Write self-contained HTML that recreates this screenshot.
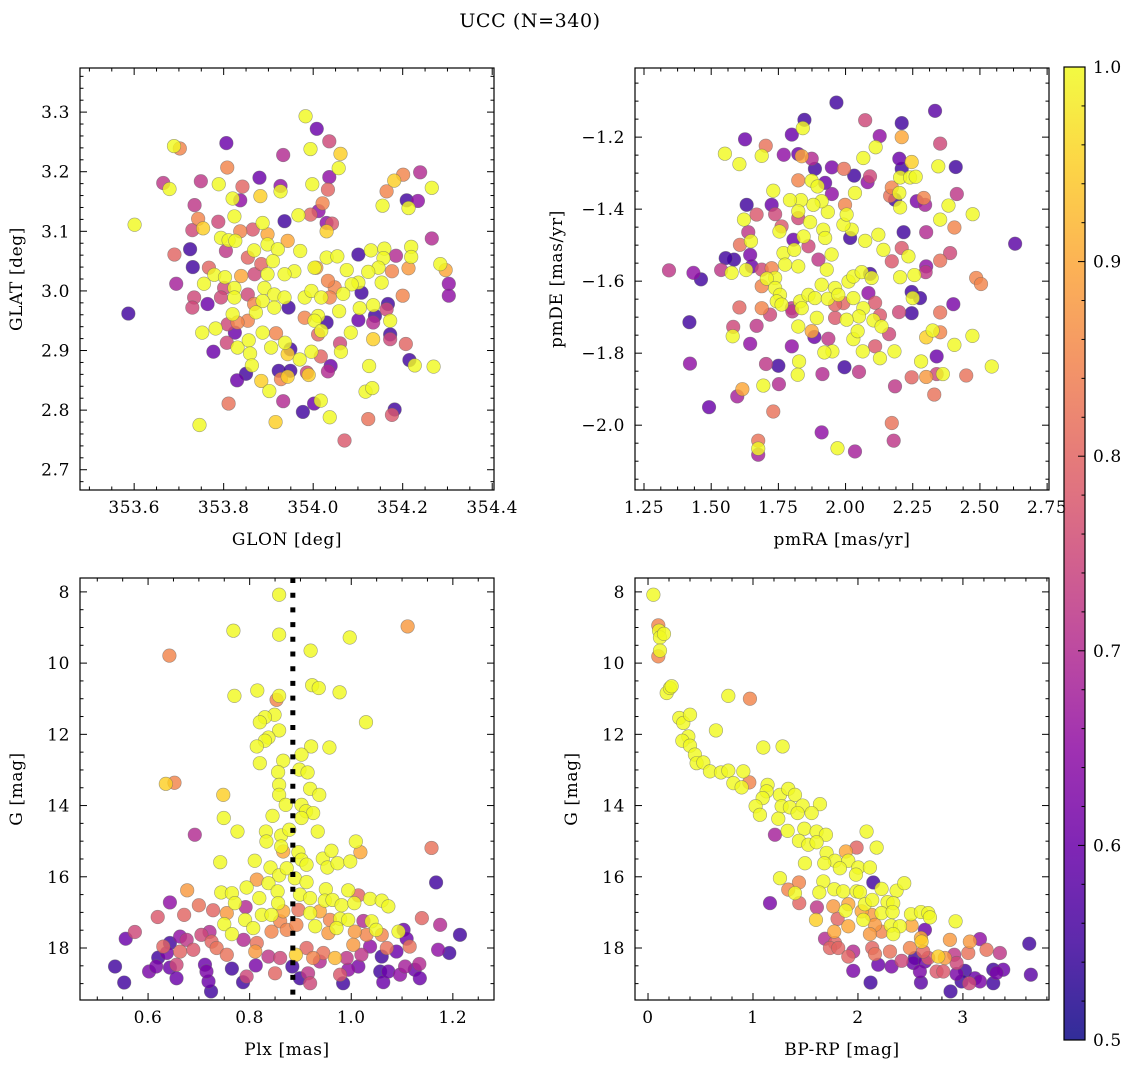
<!DOCTYPE html>
<html><head><meta charset="utf-8">
<style>
html,body{margin:0;padding:0;background:#fff;}
svg{display:block;}
text{font-family:"DejaVu Serif","Liberation Serif",serif;fill:#000;letter-spacing:0.6px;}
</style></head>
<body>
<svg id="fig" width="1136" height="1067" viewBox="0 0 1136 1067" xmlns="http://www.w3.org/2000/svg">
<text x="530" y="27" font-size="19" text-anchor="middle">UCC (N=340)</text>
</svg>
<script>
// ---- Panel 1: GLON vs GLAT ----
const p1X=[353.983,354.008,354.036,353.994,354.061,354.057,354.036,354.033,353.998,353.806,353.933,353.689,353.702,353.665,353.679,353.749,353.789,353.808,353.842,353.880,353.927,353.927,353.882,353.820,353.837,353.735,353.601,353.743,353.754,353.730,353.788,353.824,353.936,353.967,353.994,354.012,354.021,354.030,354.042,354.030,354.155,354.164,354.181,354.201,354.239,354.265,354.209,354.234,354.213,354.265,353.725,353.731,353.690,353.694,353.587,353.764,353.734,353.730,353.756,353.767,353.779,353.803,353.805,353.794,353.811,353.826,353.837,353.865,353.887,353.898,353.898,353.921,353.868,353.854,353.884,353.910,353.943,353.971,354.003,354.030,354.054,354.101,354.129,354.159,354.219,354.219,354.185,354.157,354.284,354.296,354.303,354.303,354.213,354.176,354.146,354.123,354.153,354.101,354.075,354.086,354.067,354.048,354.033,354.007,353.958,353.936,353.898,353.869,353.839,353.824,353.801,353.794,353.824,353.854,353.891,353.913,353.936,353.887,353.868,353.913,353.945,353.981,353.996,354.018,354.037,354.108,354.200,354.134,354.104,354.058,354.011,354.030,353.981,354.003,354.018,354.011,354.101,354.138,354.167,354.164,354.172,354.134,354.084,354.134,354.172,354.172,354.207,354.060,354.062,354.017,353.996,353.970,353.943,353.949,353.937,353.917,353.906,353.887,353.872,353.854,353.831,353.820,353.809,353.825,353.807,353.831,353.856,353.859,353.863,353.850,353.830,353.777,353.782,353.752,353.923,353.949,353.928,353.943,353.884,353.902,353.986,353.990,354.039,354.033,354.125,354.117,354.132,354.215,354.227,354.269,353.933,353.811,353.746,353.916,353.977,354.002,354.017,354.037,354.123,354.182,354.176,354.070];
const p1Y=[3.293,3.272,3.251,3.238,3.230,3.206,3.191,3.170,3.179,3.248,3.228,3.243,3.239,3.181,3.171,3.184,3.179,3.207,3.175,3.190,3.176,3.167,3.159,3.155,3.152,3.144,3.111,3.121,3.105,3.102,3.116,3.125,3.117,3.127,3.128,3.134,3.147,3.114,3.113,3.100,3.143,3.167,3.185,3.195,3.199,3.173,3.152,3.151,3.139,3.088,3.070,3.040,3.061,3.012,2.962,2.978,2.989,2.972,3.012,3.039,3.027,3.023,3.067,3.089,3.085,3.084,3.100,3.103,3.114,3.095,3.078,3.070,3.068,3.056,3.045,3.050,3.084,3.067,3.039,3.056,3.058,3.061,3.068,3.071,3.074,3.057,3.059,3.055,3.045,3.035,3.012,2.992,3.038,3.033,3.039,3.032,3.014,3.014,3.035,3.011,2.995,3.006,3.017,3.039,3.033,3.028,3.028,3.028,3.025,3.005,3.005,2.989,2.989,2.994,3.005,2.994,2.989,2.983,2.978,2.972,2.972,2.989,3.000,2.989,2.989,2.997,2.992,2.976,2.971,2.966,2.958,2.947,2.955,2.950,2.933,2.927,2.951,2.958,2.978,2.969,2.950,2.947,2.930,2.919,2.927,2.919,2.911,2.912,2.898,2.890,2.898,2.885,2.894,2.902,2.913,2.929,2.905,2.930,2.964,2.950,2.947,2.961,2.944,2.930,2.913,2.905,2.917,2.895,2.875,2.861,2.850,2.898,2.937,2.930,2.866,2.866,2.852,2.856,2.849,2.832,2.863,2.859,2.874,2.865,2.874,2.831,2.837,2.884,2.875,2.873,2.815,2.811,2.775,2.780,2.797,2.811,2.816,2.788,2.785,2.801,2.792,2.749];
const p1P=[1.0,0.6,0.75,1.0,0.95,1.0,0.65,0.8,1.0,0.6,0.7,1.0,0.85,0.72,1.0,0.72,1.0,0.85,0.8,0.6,0.65,1.0,0.95,1.0,0.65,0.72,1.0,0.85,0.95,0.75,0.75,1.0,0.55,1.0,0.8,0.65,0.85,0.65,0.78,0.95,1.0,0.85,0.95,0.85,0.7,1.0,0.55,0.65,1.0,0.7,0.55,0.55,0.8,0.68,0.55,0.6,0.75,0.75,1.0,0.8,1.0,1.0,0.72,1.0,1.0,1.0,0.85,0.78,1.0,0.9,1.0,1.0,1.0,0.8,0.8,1.0,0.9,1.0,1.0,1.0,1.0,0.55,1.0,1.0,1.0,1.0,0.7,1.0,1.0,0.9,0.65,0.65,0.88,0.85,1.0,1.0,1.0,1.0,1.0,1.0,1.0,0.85,0.85,0.9,1.0,1.0,1.0,0.75,0.9,1.0,0.75,0.75,1.0,0.75,1.0,1.0,1.0,1.0,0.85,1.0,0.55,1.0,1.0,1.0,0.85,0.55,0.85,1.0,1.0,1.0,1.0,0.55,0.85,1.0,1.0,0.8,0.6,0.55,0.55,0.75,1.0,0.7,1.0,0.95,0.55,0.75,0.8,0.75,1.0,0.8,1.0,1.0,0.95,0.55,1.0,0.85,1.0,1.0,1.0,0.85,0.85,1.0,0.75,0.6,0.75,1.0,1.0,1.0,1.0,0.55,0.6,0.6,1.0,1.0,0.55,0.55,0.85,0.95,0.95,1.0,0.75,0.95,0.6,0.7,1.0,1.0,1.0,0.55,1.0,1.0,0.7,0.82,1.0,0.95,0.55,0.6,1.0,1.0,0.82,0.55,0.78,0.78];

// ---- Panel 2: pmRA vs pmDE ----
const p2X=[1.966,1.847,1.841,1.800,1.626,1.703,1.551,1.605,1.688,1.770,1.824,1.837,1.874,1.886,1.949,1.994,2.032,2.073,2.127,2.112,2.066,2.209,2.209,2.333,2.352,2.410,2.345,2.200,2.246,2.209,2.203,2.240,2.261,2.091,2.082,1.874,1.924,1.824,1.896,1.731,1.949,2.172,2.166,2.200,2.184,2.203,2.265,2.291,2.296,2.414,2.383,2.473,2.352,2.405,2.300,2.216,2.631,2.389,2.352,2.300,2.298,2.256,2.203,2.486,2.504,2.234,2.172,2.209,2.141,2.122,2.073,2.023,2.017,1.992,2.004,2.035,1.998,1.934,1.911,1.880,1.834,1.793,1.824,1.824,1.868,1.917,1.924,1.844,1.806,1.762,1.754,1.738,1.669,1.632,1.622,1.725,1.638,1.648,1.607,1.645,1.651,1.585,1.554,1.537,1.576,1.630,1.343,1.434,1.462,1.688,1.725,1.769,1.809,1.862,1.899,1.948,1.930,1.824,1.775,1.738,1.707,1.688,1.738,1.756,1.744,1.688,1.719,1.762,1.800,1.831,1.862,1.886,1.911,1.961,2.011,2.029,2.060,2.091,2.097,2.085,2.029,1.992,1.961,1.934,1.973,2.110,2.066,2.050,2.004,1.961,1.893,1.837,1.802,1.824,1.874,1.884,1.936,2.029,2.045,2.104,2.128,2.134,2.162,2.199,2.246,2.250,2.277,2.246,2.352,2.401,2.110,2.064,2.128,2.182,1.951,1.921,1.800,1.827,1.750,1.704,1.822,1.914,1.996,2.050,1.645,1.580,1.582,1.605,1.669,1.419,1.421,1.492,1.597,1.616,1.694,1.752,1.731,1.675,1.675,1.675,1.911,1.970,2.035,2.172,2.179,2.184,2.246,2.300,2.339,2.362,2.339,2.330,2.281,2.300,2.324,2.352,2.405,2.449,2.472,2.544];
const p2Y=[-1.104,-1.152,-1.175,-1.193,-1.206,-1.224,-1.246,-1.275,-1.252,-1.249,-1.247,-1.253,-1.260,-1.288,-1.284,-1.288,-1.307,-1.153,-1.197,-1.228,-1.258,-1.161,-1.200,-1.127,-1.218,-1.283,-1.281,-1.260,-1.269,-1.288,-1.312,-1.312,-1.310,-1.309,-1.325,-1.321,-1.327,-1.320,-1.337,-1.349,-1.358,-1.340,-1.363,-1.355,-1.374,-1.395,-1.378,-1.369,-1.388,-1.358,-1.390,-1.414,-1.429,-1.451,-1.464,-1.464,-1.496,-1.522,-1.543,-1.559,-1.575,-1.583,-1.589,-1.591,-1.608,-1.531,-1.545,-1.508,-1.513,-1.471,-1.488,-1.457,-1.480,-1.443,-1.415,-1.355,-1.388,-1.408,-1.378,-1.388,-1.375,-1.375,-1.406,-1.425,-1.436,-1.457,-1.480,-1.476,-1.485,-1.448,-1.462,-1.414,-1.415,-1.388,-1.429,-1.388,-1.464,-1.489,-1.499,-1.527,-1.559,-1.540,-1.536,-1.569,-1.577,-1.569,-1.570,-1.577,-1.595,-1.568,-1.564,-1.522,-1.513,-1.503,-1.540,-1.526,-1.568,-1.559,-1.554,-1.591,-1.593,-1.614,-1.619,-1.638,-1.656,-1.675,-1.693,-1.665,-1.675,-1.656,-1.638,-1.647,-1.610,-1.619,-1.601,-1.587,-1.575,-1.580,-1.591,-1.633,-1.647,-1.661,-1.665,-1.649,-1.638,-1.660,-1.675,-1.698,-1.707,-1.702,-1.702,-1.675,-1.684,-1.726,-1.739,-1.755,-1.760,-1.761,-1.739,-1.709,-1.695,-1.726,-1.747,-1.686,-1.630,-1.647,-1.647,-1.689,-1.687,-1.664,-1.781,-1.795,-1.814,-1.795,-1.795,-1.798,-1.781,-1.823,-1.835,-1.830,-1.860,-1.858,-1.839,-1.852,-1.774,-1.753,-1.727,-1.673,-1.724,-1.714,-1.829,-1.950,-1.920,-1.900,-1.890,-1.886,-1.962,-2.043,-2.065,-2.082,-2.020,-2.064,-2.073,-1.994,-2.043,-1.892,-1.867,-1.866,-1.858,-1.858,-1.809,-1.915,-1.823,-1.756,-1.737,-1.742,-1.777,-1.862,-1.752,-1.837];
const p2P=[0.55,0.55,1.0,0.6,0.6,0.82,1.0,1.0,1.0,0.65,0.6,0.9,0.7,0.55,0.62,0.82,0.55,0.75,0.65,1.0,1.0,0.55,0.9,0.58,0.75,0.55,1.0,0.6,0.95,0.55,1.0,1.0,1.0,0.75,0.65,1.0,0.6,0.85,1.0,1.0,0.65,0.85,0.82,1.0,0.55,1.0,0.62,0.85,0.68,0.72,1.0,1.0,1.0,0.85,0.7,0.55,0.58,0.75,0.82,0.65,0.72,1.0,1.0,0.85,0.85,1.0,0.78,0.78,1.0,1.0,1.0,1.0,0.55,1.0,1.0,1.0,0.85,1.0,1.0,1.0,1.0,1.0,1.0,0.75,1.0,1.0,1.0,1.0,0.6,0.78,1.0,0.75,0.78,0.55,1.0,0.6,0.72,1.0,0.82,0.62,0.6,0.55,0.55,0.72,1.0,1.0,0.72,0.65,0.55,0.75,0.85,1.0,1.0,0.75,0.72,1.0,1.0,1.0,1.0,1.0,1.0,0.85,1.0,1.0,1.0,0.85,0.75,1.0,0.72,1.0,1.0,1.0,1.0,1.0,1.0,1.0,1.0,0.55,1.0,0.65,1.0,0.8,0.8,1.0,1.0,0.78,1.0,1.0,1.0,0.78,1.0,1.0,0.72,1.0,0.9,0.6,0.72,1.0,1.0,1.0,0.78,1.0,0.75,0.75,0.55,1.0,0.55,0.55,0.82,0.62,0.78,1.0,1.0,1.0,1.0,1.0,0.65,1.0,0.55,0.72,1.0,0.7,0.55,0.72,0.65,1.0,0.75,0.8,0.72,0.55,0.65,0.6,0.68,0.9,1.0,0.7,0.82,0.82,1.0,0.68,0.65,1.0,0.68,0.82,0.72,0.72,0.8,0.88,0.75,1.0,0.6,0.82,1.0,0.95,1.0,0.85,1.0,0.82,1.0,1.0];

// ---- Panel 3: Plx vs G ----
const p3X=[0.858,0.768,0.858,0.997,1.111,0.642,0.920,0.923,0.936,0.977,0.815,0.770,0.853,0.858,1.029,0.849,0.830,0.820,0.858,0.837,0.830,0.814,0.921,0.957,0.820,0.866,0.902,0.635,0.652,0.856,0.898,0.914,0.858,0.919,0.937,0.748,0.858,0.871,0.902,0.911,0.925,0.902,0.845,0.749,0.692,0.776,0.832,0.833,0.862,0.878,0.934,0.862,0.866,0.896,0.902,0.912,0.810,0.742,0.944,0.961,0.953,0.973,0.998,1.009,1.018,1.158,1.167,0.841,0.858,0.873,0.889,0.814,0.794,0.837,0.855,0.912,0.950,0.994,0.677,0.744,0.765,0.819,0.899,0.919,0.948,0.963,1.014,1.037,1.060,1.073,0.643,0.700,0.771,0.856,0.981,1.006,0.619,0.671,0.728,0.755,0.792,0.824,0.843,0.866,0.896,0.919,0.938,0.958,0.978,0.994,1.024,1.040,1.139,1.175,1.214,0.750,0.791,0.807,0.860,0.873,0.892,0.929,0.955,0.971,1.007,1.030,1.049,1.060,1.093,1.103,0.765,0.843,0.556,0.574,0.643,0.663,0.676,0.705,0.721,0.725,0.630,0.663,0.689,0.735,0.755,0.788,0.814,0.811,0.837,0.860,0.891,0.912,0.925,0.945,0.968,0.991,1.004,1.020,1.037,1.070,1.089,1.115,1.109,1.171,1.193,0.535,0.553,0.602,0.616,0.620,0.637,0.643,0.656,0.656,0.712,0.715,0.719,0.724,0.765,0.787,0.794,0.812,0.850,0.884,0.899,0.915,0.919,0.938,0.978,0.984,0.994,1.014,1.057,1.060,1.063,1.073,1.096,1.106,1.125,1.135,1.134];
const p3Y=[8.08,9.09,9.20,9.28,8.97,9.79,9.65,10.62,10.70,10.82,10.77,10.92,11.03,10.92,11.66,11.45,11.52,11.66,11.89,12.09,12.18,12.34,12.34,12.37,12.81,12.74,12.57,13.39,13.36,13.06,12.99,13.07,13.42,13.53,13.70,13.70,13.70,13.98,13.98,14.16,14.21,14.35,14.29,14.35,14.82,14.73,14.73,15.01,14.84,14.68,14.73,15.15,15.29,15.31,15.52,15.66,15.55,15.59,15.49,15.27,15.74,15.62,15.57,15.01,15.31,15.19,16.16,15.74,15.96,15.76,16.04,16.08,16.30,16.18,16.41,16.15,16.35,16.38,16.38,16.44,16.46,16.60,16.50,16.60,16.67,16.65,16.52,16.62,16.67,16.83,16.72,16.80,16.74,16.74,16.80,16.74,17.13,17.07,16.94,17.02,16.85,17.07,17.07,16.97,16.93,17.02,16.97,17.21,17.18,17.21,17.24,17.25,17.16,17.35,17.63,17.33,17.21,17.44,17.25,17.49,17.35,17.39,17.58,17.44,17.54,17.63,17.49,17.63,17.54,17.49,17.61,17.54,17.74,17.55,17.86,17.68,17.77,17.63,17.55,17.82,17.96,18.10,18.05,18.00,18.19,17.77,17.86,18.10,18.24,18.28,18.19,18.00,18.28,18.14,18.28,18.28,17.91,18.19,17.96,18.00,18.10,17.96,17.74,18.05,18.14,18.52,18.97,18.66,18.52,18.27,18.14,18.55,18.85,18.47,18.47,18.66,18.94,19.22,18.58,18.96,18.80,18.49,18.71,18.52,18.85,18.71,18.99,18.38,18.75,18.99,18.61,18.52,18.66,18.24,18.96,18.66,18.75,18.52,18.61,18.85,18.45];
const p3P=[1.0,1.0,1.0,1.0,0.88,0.85,1.0,1.0,1.0,1.0,1.0,1.0,0.85,1.0,1.0,1.0,1.0,1.0,1.0,1.0,1.0,1.0,1.0,1.0,1.0,1.0,1.0,0.95,0.85,1.0,1.0,1.0,1.0,1.0,1.0,0.95,1.0,1.0,1.0,1.0,1.0,1.0,1.0,1.0,0.7,1.0,1.0,1.0,1.0,1.0,1.0,1.0,0.9,1.0,1.0,1.0,1.0,1.0,1.0,1.0,1.0,1.0,1.0,1.0,0.9,0.82,0.55,1.0,1.0,1.0,1.0,0.88,1.0,1.0,1.0,1.0,1.0,1.0,0.88,1.0,1.0,1.0,1.0,1.0,1.0,1.0,0.8,1.0,1.0,1.0,0.65,0.82,1.0,1.0,1.0,1.0,0.78,0.8,0.8,0.88,0.7,1.0,1.0,0.9,0.82,1.0,0.9,0.85,1.0,1.0,0.7,1.0,0.8,0.7,0.55,1.0,1.0,1.0,0.85,0.85,0.85,1.0,0.88,1.0,0.88,0.85,1.0,0.85,1.0,0.6,1.0,0.85,0.6,0.75,0.55,0.65,0.72,0.75,0.7,0.8,0.8,0.8,0.78,0.82,0.82,0.7,0.82,0.88,0.72,0.75,0.95,0.8,0.85,0.82,0.92,0.72,0.88,0.72,0.65,0.82,0.6,0.82,0.6,0.65,0.55,0.55,0.55,0.62,0.62,0.55,0.62,0.6,0.6,0.75,0.6,0.62,0.6,0.55,0.55,0.55,0.75,0.62,0.8,0.55,0.55,0.72,0.75,0.7,0.78,0.55,0.65,0.62,0.55,0.55,0.6,0.6,0.65,0.68,0.6,0.6,0.7];

// ---- Panel 4: BP-RP vs G ----
const p4X=[0.051,0.098,0.105,0.114,0.152,0.114,0.098,0.178,0.209,0.225,0.765,0.971,0.298,0.336,0.400,0.647,0.384,0.327,0.400,1.098,1.282,0.447,0.463,0.527,0.590,0.695,0.765,0.908,0.813,0.892,0.965,1.139,1.130,1.092,1.025,1.066,1.257,1.336,1.400,1.273,1.352,1.473,1.638,1.559,1.425,1.241,1.330,1.209,1.489,1.606,1.695,1.438,1.527,1.606,1.701,2.082,2.178,1.987,1.885,1.908,1.781,1.679,1.495,1.828,2.003,2.114,2.146,1.981,1.257,1.438,1.670,1.336,1.400,1.632,1.774,1.860,1.987,2.019,2.225,2.368,2.441,1.162,1.441,1.609,1.765,1.908,2.066,2.136,2.282,2.336,1.882,2.035,2.130,2.225,2.330,2.505,2.600,2.670,2.686,2.930,1.600,1.806,1.908,2.051,2.162,2.314,2.400,2.511,2.638,1.774,2.114,2.225,2.336,2.600,2.606,2.876,3.066,3.162,3.632,1.686,1.781,1.733,1.812,1.955,1.908,2.136,2.162,2.305,2.416,2.495,2.622,2.670,2.765,2.828,2.917,3.051,3.225,3.352,2.543,2.940,1.955,2.193,2.320,2.527,2.590,2.638,2.749,2.813,2.940,3.019,3.060,3.162,2.987,3.289,3.320,3.384,3.289,3.647,2.120,2.600,2.882,3.114];
const p4Y=[8.08,8.94,9.09,9.28,9.18,9.65,9.81,10.84,10.70,10.65,10.92,11.00,11.54,11.68,11.45,11.89,12.06,12.18,12.32,12.37,12.34,12.57,12.81,12.79,13.04,13.07,13.02,13.04,13.37,13.49,13.35,13.42,13.60,13.79,14.02,14.26,13.70,13.53,13.70,14.02,14.05,14.00,13.96,14.21,14.21,14.37,14.71,14.82,14.65,14.73,14.82,14.99,15.10,15.03,15.33,14.73,15.18,15.18,15.29,15.55,15.55,15.62,15.62,15.76,15.74,15.74,16.16,15.94,16.04,16.16,16.13,16.36,16.46,16.44,16.35,16.41,16.41,16.43,16.34,16.39,16.18,16.74,16.74,16.86,16.83,16.77,16.77,16.65,16.71,16.74,16.95,16.97,17.07,17.02,16.99,17.05,16.99,17.02,17.14,17.25,17.21,17.18,17.39,17.21,17.35,17.37,17.39,17.37,17.49,17.54,17.61,17.54,17.61,17.72,17.82,17.77,17.82,17.75,17.88,17.74,17.86,18.00,18.00,18.10,18.24,18.00,18.17,18.10,18.36,18.00,18.10,18.28,18.24,18.28,18.19,18.14,18.05,18.14,18.28,18.42,18.64,18.47,18.52,18.42,18.66,18.38,18.66,18.66,18.73,18.64,18.99,18.94,18.94,18.61,18.70,18.61,18.99,18.75,18.97,18.97,19.22,18.85];
const p4P=[1.0,0.85,1.0,1.0,1.0,1.0,0.85,1.0,1.0,1.0,1.0,0.85,1.0,1.0,1.0,1.0,1.0,1.0,1.0,1.0,1.0,1.0,1.0,1.0,1.0,1.0,1.0,1.0,1.0,1.0,0.85,1.0,1.0,1.0,1.0,1.0,1.0,1.0,1.0,1.0,1.0,1.0,1.0,1.0,1.0,1.0,1.0,0.68,1.0,1.0,1.0,1.0,1.0,1.0,1.0,1.0,1.0,0.8,0.9,1.0,1.0,1.0,1.0,1.0,1.0,1.0,0.55,1.0,1.0,0.85,1.0,0.85,1.0,1.0,1.0,1.0,1.0,1.0,1.0,1.0,1.0,0.62,0.8,0.72,0.88,0.9,1.0,1.0,1.0,1.0,1.0,0.9,0.88,1.0,1.0,1.0,1.0,1.0,1.0,1.0,0.95,0.8,0.9,1.0,0.88,1.0,1.0,0.9,0.6,0.9,0.88,0.85,1.0,0.9,0.95,0.88,0.88,0.65,0.55,0.7,0.8,0.8,0.8,0.7,0.8,0.8,0.82,0.82,0.75,0.85,0.8,0.78,0.95,0.88,0.72,0.82,0.82,0.72,0.55,0.75,0.62,0.6,0.62,0.6,0.62,0.6,0.78,0.78,0.62,0.55,0.75,0.62,0.55,0.55,0.62,0.6,0.55,0.58,0.55,0.58,0.55,0.6];

// ---- Colorbar ticks ----
const cbTicks=[0.5,0.6,0.7,0.8,0.9,1.0];

const NS='http://www.w3.org/2000/svg';
const svg=document.getElementById('fig');
const plasma=[[13,8,135],[65,4,157],[106,0,168],[143,13,164],[177,42,144],[204,71,120],[225,100,98],[242,132,75],[252,166,54],[252,206,37],[240,249,33]];
function cmap(p){let t=(p-0.5)/0.5;t=Math.max(0,Math.min(1,t));const s=t*10;const i=Math.min(9,Math.floor(s));const f=s-i;const a=plasma[i],b=plasma[i+1];
 return 'rgb('+a.map((v,k)=>Math.round(v+(b[k]-v)*f)).join(',')+')';}
function el(tag,attrs,parent){const e=document.createElementNS(NS,tag);for(const k in attrs)e.setAttribute(k,attrs[k]);(parent||svg).appendChild(e);return e;}
function fmt(v,d){return v.toFixed(d).replace('-','\u2212');}
const FS=17;

function panel(cfg){
 const g=el('g',{});
 
 
 const L=cfg.box[0],T=cfg.box[1],R=cfg.box[2],B=cfg.box[3];
 const sx=v=>L+(v-cfg.xd[0])/(cfg.xd[1]-cfg.xd[0])*(R-L);
 const sy=cfg.yinv? (v=>T+(v-cfg.yd[0])/(cfg.yd[1]-cfg.yd[0])*(B-T)) : (v=>B-(v-cfg.yd[0])/(cfg.yd[1]-cfg.yd[0])*(B-T));
 const cid='clip'+cfg.name;
 const cp=el('clipPath',{id:cid},g);el('rect',{x:L,y:T,width:R-L,height:B-T},cp);
 const pts=el('g',{'clip-path':'url(#'+cid+')'},g);
 
 
 const idx=cfg.x.map((_,i)=>i).sort((a,b)=>cfg.p[a]-cfg.p[b]);
 for(const i of idx){
  const c=el('circle',{cx:sx(cfg.x[i]),cy:sy(cfg.y[i]),r:6.8,fill:cmap(cfg.p[i]),'fill-opacity':0.82,stroke:'#666','stroke-opacity':0.6,'stroke-width':0.6},pts);
  
  
 }
 if(cfg.vline!==undefined){
  const ln=el('line',{x1:sx(cfg.vline),x2:sx(cfg.vline),y1:T,y2:B,stroke:'#000','stroke-width':5,'stroke-dasharray':'5 9.7'},g);
  
  
 }
 const tk=el('g',{stroke:'#000','stroke-width':1},g);
 const near=(a,b)=>Math.abs(a-b)<1e-6;
 function range(a,b,st){const o=[];const s=Math.ceil(a/st-1e-9);for(let k=s;k*st<=b+1e-9;k++)o.push(k*st);return o;}
 const xmaj=range(cfg.xd[0],cfg.xd[1],cfg.xmaj), xmin=range(cfg.xd[0],cfg.xd[1],cfg.xmin);
 const ylo=Math.min(cfg.yd[0],cfg.yd[1]),yhi=Math.max(cfg.yd[0],cfg.yd[1]);
 const ymaj=range(ylo,yhi,cfg.ymaj), ymin=range(ylo,yhi,cfg.ymin);
 xmin.forEach(v=>{if(xmaj.some(m=>near(m,v)))return;const x=sx(v);el('line',{x1:x,x2:x,y1:B,y2:B-3.5},tk);el('line',{x1:x,x2:x,y1:T,y2:T+3.5},tk);});
 ymin.forEach(v=>{if(ymaj.some(m=>near(m,v)))return;const y=sy(v);el('line',{x1:L,x2:L+3.5,y1:y,y2:y},tk);el('line',{x1:R,x2:R-3.5,y1:y,y2:y},tk);});
 xmaj.forEach(v=>{const x=sx(v);el('line',{x1:x,x2:x,y1:B,y2:B-7},tk);el('line',{x1:x,x2:x,y1:T,y2:T+7},tk);
  const t=el('text',{x:x,y:B+23,'font-size':FS,'text-anchor':'middle'},g);t.textContent=fmt(v,cfg.xdec);
  });
 ymaj.forEach(v=>{const y=sy(v);el('line',{x1:L,x2:L+7,y1:y,y2:y},tk);el('line',{x1:R,x2:R-7,y1:y,y2:y},tk);
  const t=el('text',{x:L-10,y:y+6,'font-size':FS,'text-anchor':'end'},g);t.textContent=fmt(v,cfg.ydec);
  });
 const fr=el('rect',{x:L,y:T,width:R-L,height:B-T,fill:'none',stroke:'#000','stroke-width':1.2},g);
 
 const xl=el('text',{x:(L+R)/2,y:B+55,'font-size':FS,'text-anchor':'middle'},g);xl.textContent=cfg.xlabel;
 
 const yx=L-cfg.ylabOff,yc=(T+B)/2;
 const yl=el('text',{x:yx,y:yc,'font-size':FS,'text-anchor':'middle',transform:'rotate(-90 '+yx+' '+yc+')'},g);yl.textContent=cfg.ylabel;
 
}

panel({name:'glon-glat-panel',box:[80,68,494,490],xd:[353.479,354.404],yd:[2.666,3.374],x:p1X,y:p1Y,p:p1P,xmaj:0.2,xmin:0.05,ymaj:0.1,ymin:0.02,xdec:1,ydec:1,xlabel:'GLON [deg]',ylabel:'GLAT [deg]',ylabOff:58});
panel({name:'pm-panel',box:[635,68,1049,490],xd:[1.2165,2.757],yd:[-2.18,-1.008],x:p2X,y:p2Y,p:p2P,xmaj:0.25,xmin:0.0625,ymaj:0.2,ymin:0.05,xdec:2,ydec:1,xlabel:'pmRA [mas/yr]',ylabel:'pmDE [mas/yr]',ylabOff:73});
panel({name:'plx-g-panel',box:[80,578,494,1000],xd:[0.466,1.281],yd:[7.61,19.46],yinv:true,x:p3X,y:p3Y,p:p3P,xmaj:0.2,xmin:0.05,ymaj:2,ymin:0.5,xdec:1,ydec:0,xlabel:'Plx [mas]',ylabel:'G [mag]',ylabOff:58,vline:0.885});
panel({name:'cmd-panel',box:[635,578,1049,1000],xd:[-0.124,3.82],yd:[7.61,19.46],yinv:true,x:p4X,y:p4Y,p:p4P,xmaj:1,xmin:0.2,ymaj:2,ymin:0.5,xdec:0,ydec:0,xlabel:'BP-RP [mag]',ylabel:'G [mag]',ylabOff:58});

(function(){
 const L=1064,R=1085,T=67,B=1040;
 const g=el('g',{});
 
 
 const defs=el('defs',{},g);
 const lg=el('linearGradient',{id:'cbgrad',x1:0,y1:1,x2:0,y2:0},defs);
 for(let i=0;i<=20;i++){el('stop',{offset:i/20,'stop-color':cmap(0.5+i/40),'stop-opacity':0.85},lg);}
 el('rect',{x:L,y:T,width:R-L,height:B-T,fill:'url(#cbgrad)'},g);
 const sy=v=>B-(v-0.5)/0.5*(B-T);
 for(let k=0;k<=25;k++){const v=0.5+k*0.02;const y=sy(v);const isMaj=(k%5===0);
  el('line',{x1:R,x2:R-(isMaj?7:3.5),y1:y,y2:y,stroke:'#000','stroke-width':1},g);}
 cbTicks.forEach(v=>{const t=el('text',{x:R+8,y:sy(v)+6,'font-size':FS},g);t.textContent=v.toFixed(1);
  });
 el('rect',{x:L,y:T,width:R-L,height:B-T,fill:'none',stroke:'#000','stroke-width':1.2},g);
})();
</script>
</body></html>
